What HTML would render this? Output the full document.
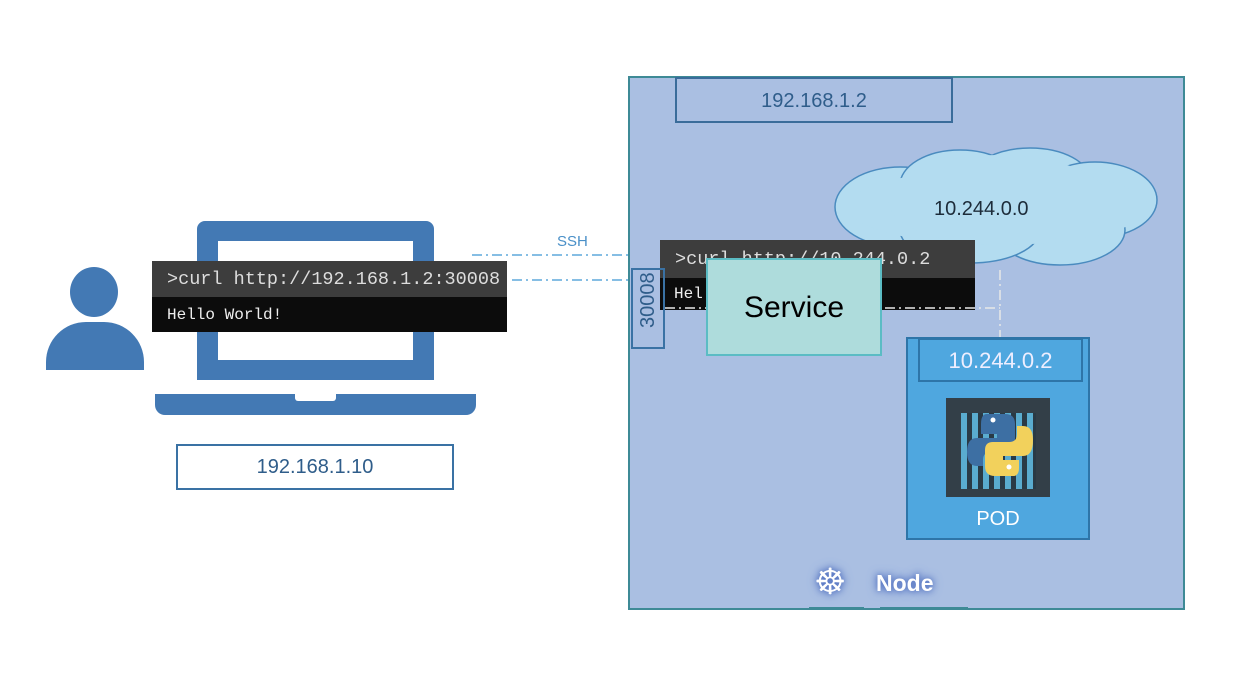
<!DOCTYPE html>
<html><head><meta charset="utf-8"><style>
body{margin:0;width:1238px;height:694px;background:#fff;position:relative;overflow:hidden;font-family:"Liberation Sans",sans-serif}
.a{position:absolute;box-sizing:border-box}
.mono{font-family:"Liberation Mono",monospace}
</style></head><body>
<!-- person -->
<div class="a" style="left:70px;top:267px;width:48px;height:50px;border-radius:50%;background:#4379b4"></div>
<div class="a" style="left:46px;top:322px;width:98px;height:48px;border-radius:40px 40px 0 0;background:#4379b4"></div>
<!-- laptop -->
<div class="a" style="left:197px;top:221px;width:237px;height:159px;background:#4379b4;border-radius:8px 8px 0 0"></div>
<div class="a" style="left:218px;top:241px;width:195px;height:119px;background:#fff"></div>
<div class="a" style="left:155px;top:394px;width:321px;height:21px;background:#4379b4;border-radius:0 0 10px 10px"></div>
<div class="a" style="left:295px;top:394px;width:41px;height:7px;background:#fff;border-radius:0 0 3px 3px"></div>
<!-- left terminal -->
<div class="a" style="left:152px;top:261px;width:355px;height:36px;background:#3d3d3d"></div>
<div class="a" style="left:152px;top:297px;width:355px;height:35px;background:#0c0c0c"></div>
<div class="a mono" style="left:167px;top:269px;color:#ddd;font-size:18.5px">&gt;curl http://192.168.1.2:30008</div>
<div class="a mono" style="left:167px;top:306px;color:#eee;font-size:16px">Hello World!</div>
<div class="a" style="left:176px;top:444px;width:278px;height:46px;border:2px solid #3a72a4;color:#2f5d8a;font-size:20px;text-align:center;line-height:42px">192.168.1.10</div>
<!-- lines -->
<svg class="a" style="left:0;top:0" width="1238" height="694">
<line x1="472" y1="255" x2="660" y2="255" stroke="#5ea8dc" stroke-width="1.5" stroke-dasharray="10 4 2 4"/>
<line x1="512" y1="280" x2="631" y2="280" stroke="#5ea8dc" stroke-width="1.5" stroke-dasharray="10 4 2 4"/>
</svg>
<div class="a" style="left:557px;top:233px;color:#4a90c8;font-size:15px">SSH</div>
<!-- node -->
<div class="a" style="left:628px;top:76px;width:557px;height:534px;background:#aabfe2;border:2px solid #3e8a96"></div>
<div class="a" style="left:675px;top:77px;width:278px;height:46px;border:2px solid #3a6c9a;color:#2f5d8a;font-size:20px;text-align:center;line-height:44px">192.168.1.2</div>
<!-- cloud -->
<svg class="a" style="left:830px;top:145px" width="335" height="125">
<g fill="#b3dcf0" stroke="#4a8bbf" stroke-width="1.5">
<ellipse cx="70" cy="62" rx="65" ry="40"/><ellipse cx="130" cy="40" rx="60" ry="35"/><ellipse cx="200" cy="35" rx="60" ry="32"/><ellipse cx="265" cy="55" rx="62" ry="38"/><ellipse cx="230" cy="85" rx="65" ry="35"/><ellipse cx="140" cy="85" rx="70" ry="33"/></g>
<ellipse cx="168" cy="62" rx="150" ry="38" fill="#b3dcf0"/><ellipse cx="168" cy="55" rx="110" ry="45" fill="#b3dcf0"/>
</svg>
<div class="a" style="left:934px;top:198px;color:#1d2c3a;font-size:20px">10.244.0.0</div>
<!-- right terminal -->
<div class="a" style="left:660px;top:240px;width:315px;height:38px;background:#3d3d3d"></div>
<div class="a" style="left:660px;top:278px;width:315px;height:32px;background:#0c0c0c"></div>
<div class="a mono" style="left:675px;top:249px;color:#ddd;font-size:18.5px">&gt;curl http://10.244.0.2</div>
<div class="a mono" style="left:674px;top:285px;color:#eee;font-size:16px">Hel</div>
<svg class="a" style="left:0;top:0" width="1238" height="694">
<line x1="665" y1="308" x2="1000" y2="308" stroke="#e8e8e8" stroke-width="1.5" stroke-dasharray="10 4 2 4"/>
<line x1="1000" y1="270" x2="1000" y2="337" stroke="#e8e8e8" stroke-width="1.5" stroke-dasharray="10 4 2 4"/>
</svg>
<div class="a" style="left:631px;top:268px;width:34px;height:81px;border:2px solid #3a72a4"></div>
<div class="a" style="left:628px;top:294px;width:40px;height:28px;color:#2f5d8a;font-size:20px;transform:rotate(-90deg);text-align:center;line-height:28px">30008</div>
<div class="a" style="left:706px;top:258px;width:176px;height:98px;background:#aedcdc;border:2px solid #5bbcc4;font-size:30px;text-align:center;line-height:96px;color:#000">Service</div>
<!-- pod -->
<div class="a" style="left:906px;top:337px;width:184px;height:203px;background:#4fa7df;border:2px solid #2e75a8"></div>
<div class="a" style="left:918px;top:338px;width:165px;height:44px;border:2px solid #2e75a8;color:#eef;font-size:22px;text-align:center;line-height:42px">10.244.0.2</div>
<div class="a" style="left:946px;top:398px;width:104px;height:99px;background:#333f48"></div>
<div class="a" style="left:961px;top:413px;width:75px;height:76px;background:#5aaccf;background-image:repeating-linear-gradient(90deg,#5aaccf 0 6px,#2a3a45 6px 11px)"></div>
<svg class="a" style="left:965px;top:412px" width="70" height="65">
<path d="M22 2 h18 q10 0 10 10 v20 q0 8 -8 8 h-16 q-8 0 -8 8 v6 h-6 q-10 0 -10 -14 q0 -14 10 -14 h20 v-4 h-16 v-10 q0 -10 6 -10z" fill="#3d6fa3"/>
<path d="M48 64 h-18 q-10 0 -10 -10 v-16 q0 -8 8 -8 h16 q8 0 8 -8 v-8 h6 q10 0 10 14 q0 16 -10 16 h-20 v4 h16 v8 q0 8 -6 8z" fill="#f2d15c"/>
<circle cx="28" cy="8" r="2.5" fill="#fff"/><circle cx="44" cy="55" r="2.5" fill="#fff"/></svg>
<div class="a" style="left:906px;top:508px;width:184px;text-align:center;color:#fff;font-size:20px">POD</div>
<!-- Node label -->
<div class="a" style="left:814px;top:562px;font-size:36px;line-height:40px;color:#fff;text-shadow:0 0 6px #5070c0,0 0 10px #5070c0">☸</div>
<div class="a" style="left:876px;top:570px;font-size:23px;font-weight:bold;color:#fff;text-shadow:0 0 6px #5070c0,0 0 10px #5070c0">Node</div>
<div class="a" style="left:809px;top:607px;width:55px;height:3px;background:#3e8a96"></div>
<div class="a" style="left:880px;top:607px;width:88px;height:3px;background:#3e8a96"></div>
</body></html>
